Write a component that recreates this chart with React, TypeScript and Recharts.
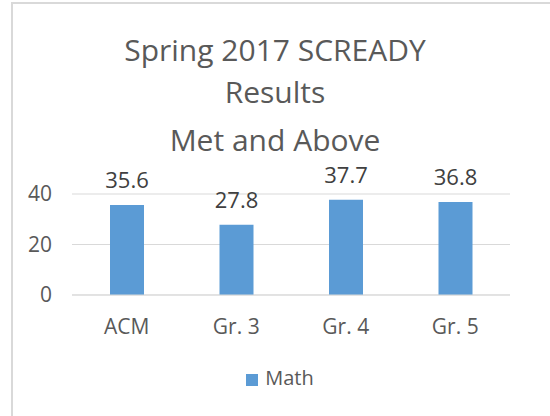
import { BarChart, Bar, XAxis, YAxis, CartesianGrid, Legend, LabelList } from 'recharts';

const categories = ['ACM', 'Gr. 3', 'Gr. 4', 'Gr. 5'];
const mathValues = [35.6, 27.8, 37.7, 36.8];
const yTicks = [0, 20, 40];
const titleLines = ['Spring 2017 SCREADY', 'Results', 'Met and Above'];
const titleBaselines = [61, 103, 151];

const data = categories.map((name, i) => ({ name, Math: mathValues[i] }));

const FONT = "'Open Sans', sans-serif";

export default function App() {
  return (
    <div
      style={{
        position: 'absolute',
        left: 0,
        top: 0,
        width: 550,
        height: 416,
        background: '#fff',
        overflow: 'hidden',
        fontFamily: FONT,
      }}
    >
      {/* chart frame, only top and left edges are in view */}
      <div
        style={{
          position: 'absolute',
          left: 11,
          top: 2,
          width: 600,
          height: 500,
          borderTop: '2px solid #d9d9d9',
          borderLeft: '2px solid #d9d9d9',
        }}
      />
      <BarChart
        width={550}
        height={416}
        data={data}
        margin={{ top: 194, right: 40, bottom: 44, left: 0 }}
        style={{ position: 'absolute', left: 0, top: 0 }}
      >
        <CartesianGrid vertical={false} stroke="#d9d9d9" strokeWidth={1} />
        <XAxis
          dataKey="name"
          height={50}
          tickLine={false}
          axisLine={{ stroke: '#d9d9d9' }}
          tickMargin={18}
          tick={{ fontSize: 21, fill: '#595959', fontFamily: FONT }}
        />
        <YAxis
          width={72}
          domain={[0, 40]}
          ticks={yTicks}
          axisLine={false}
          tickLine={false}
          tickMargin={14}
          tick={{ fontSize: 21, fill: '#595959', fontFamily: FONT }}
        />
        <Legend
          iconType="square"
          iconSize={12}
          wrapperStyle={{ top: 364, bottom: 'auto', left: 0, width: 570, fontSize: 20, fontFamily: FONT }}
          formatter={(value: string) => <span style={{ color: '#595959', marginLeft: 3 }}>{value}</span>}
        />
        <Bar dataKey="Math" fill="#5b9bd5" barSize={34} isAnimationActive={false}>
          <LabelList
            dataKey="Math"
            position="top"
            offset={17}
            style={{ fontSize: 22, fill: '#404040', fontFamily: FONT }}
          />
        </Bar>
      </BarChart>
      <svg width={550} height={416} style={{ position: 'absolute', left: 0, top: 0, pointerEvents: 'none' }}>
        {titleLines.map((line, i) => (
          <text
            key={line}
            x={275}
            y={titleBaselines[i]}
            textAnchor="middle"
            fontSize={30}
            fill="#595959"
            fontFamily={FONT}
          >
            {line}
          </text>
        ))}
      </svg>
    </div>
  );
}
